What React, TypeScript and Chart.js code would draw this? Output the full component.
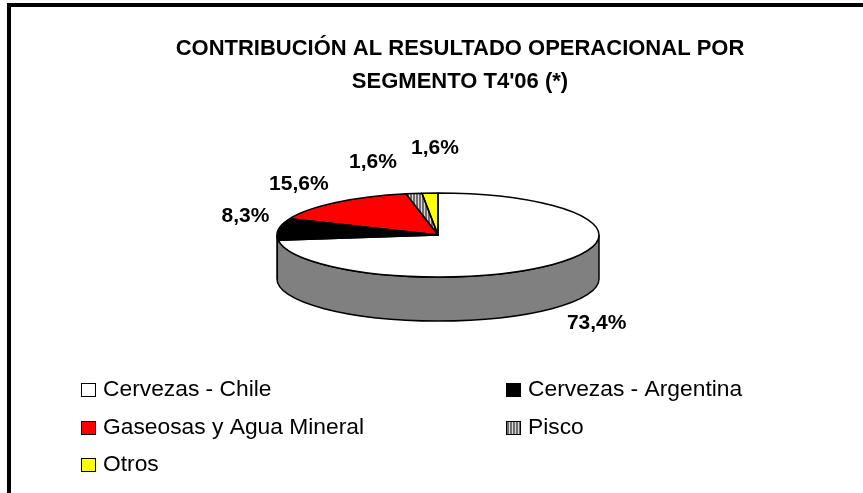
import React, { useEffect, useRef } from "react";
import { Chart, registerables } from "chart.js";

Chart.register(...registerables);

const titleLines = ["CONTRIBUCIÓN AL RESULTADO OPERACIONAL POR", "SEGMENTO T4'06 (*)"];
const categories = ["Cervezas - Chile", "Cervezas - Argentina", "Gaseosas y Agua Mineral", "Pisco", "Otros"];
const shares = [73.4, 8.3, 15.6, 1.6, 1.6];
const sliceColors = ["#ffffff", "#000000", "#ff0000", "pattern", "#ffff00"];
const wallColors = ["#808080", "#000000", "#800000", "#808080", "#808000"];
const labelOffsets = [[38, 60.5], [-33, -13], [-37, -18.5], [-41, -31.5], [5, -44.5]];
const legendSpots = [[81, 389], [506, 389], [81, 427], [506, 427], [81, 464]];

const RY = 42;
const DEPTH = 44;
const PIE_SHIFT = -22;

function makePattern(ctx: CanvasRenderingContext2D) {
  const c = document.createElement("canvas");
  c.width = 3;
  c.height = 3;
  const p = c.getContext("2d")!;
  p.fillStyle = "#d8d8d8";
  p.fillRect(0, 0, 3, 3);
  p.fillStyle = "#6e6e6e";
  p.fillRect(0, 0, 2, 3);
  return ctx.createPattern(c, "repeat")!;
}

const pie3d = {
  id: "pie3d",
  beforeDraw(chart: any) {
    const { ctx } = chart;
    ctx.save();
    ctx.fillStyle = "#ffffff";
    ctx.fillRect(0, 0, chart.width, chart.height);
    ctx.fillStyle = "#000000";
    ctx.fillRect(7, 3, chart.width, 4);
    ctx.fillRect(7, 3, 4, chart.height);
    ctx.restore();
  },
  beforeDatasetsDraw(chart: any) {
    const { ctx } = chart;
    const arcs = chart.getDatasetMeta(0).data;
    const { x: ax, y, outerRadius: r } = arcs[0];
    const x = ax + PIE_SHIFT;
    // side wall of the disc: the front half of each slice
    const wall = (a0: number, a1: number) => {
      ctx.beginPath();
      ctx.ellipse(x, y, r, RY, 0, a0, a1);
      ctx.ellipse(x, y + DEPTH, r, RY, 0, a1, a0, true);
      ctx.closePath();
    };
    const TAU = Math.PI * 2;
    ctx.save();
    arcs.forEach((arc: any, i: number) => {
      for (const shift of [0, -TAU]) {
        const a0 = Math.max(arc.startAngle + shift, 0);
        const a1 = Math.min(arc.endAngle + shift, Math.PI);
        if (a1 > a0) {
          wall(a0, a1);
          ctx.fillStyle = wallColors[i];
          ctx.fill();
        }
      }
    });
    wall(0, Math.PI);
    ctx.strokeStyle = "#000000";
    ctx.lineWidth = 1.5;
    ctx.stroke();
    ctx.restore();
    // flatten the disc the library draws
    ctx.save();
    ctx.translate(x, y);
    ctx.scale(1, RY / r);
    ctx.translate(-ax, -y);
  },
  afterDatasetsDraw(chart: any) {
    const { ctx } = chart;
    ctx.restore();
    const arcs = chart.getDatasetMeta(0).data;
    const { x: ax, y, outerRadius: r } = arcs[0];
    const x = ax + PIE_SHIFT;
    ctx.save();
    ctx.strokeStyle = "#000000";
    ctx.lineWidth = 1.5;
    ctx.lineJoin = "round";
    arcs.forEach((arc: any) => {
      ctx.beginPath();
      ctx.moveTo(x, y);
      ctx.ellipse(x, y, r, RY, 0, arc.startAngle, arc.endAngle);
      ctx.closePath();
      ctx.stroke();
    });
    // value labels
    ctx.fillStyle = "#000000";
    ctx.font = "bold 21px 'Liberation Sans'";
    ctx.textAlign = "center";
    ctx.textBaseline = "middle";
    arcs.forEach((arc: any, i: number) => {
      const mid = (arc.startAngle + arc.endAngle) / 2;
      const lx = x + r * Math.cos(mid) + labelOffsets[i][0];
      const ly = y + RY * Math.sin(mid) + labelOffsets[i][1];
      ctx.fillText(shares[i].toFixed(1).replace(".", ",") + "%", lx, ly);
    });
    ctx.restore();
  },
  afterDraw(chart: any) {
    const { ctx } = chart;
    const fills = chart.data.datasets[0].backgroundColor;
    ctx.save();
    ctx.font = "22.8px 'Liberation Sans'";
    ctx.textBaseline = "middle";
    ctx.textAlign = "left";
    categories.forEach((name, i) => {
      const [lx, ly] = legendSpots[i];
      ctx.fillStyle = fills[i];
      ctx.fillRect(lx, ly - 6, 15, 14);
      ctx.strokeStyle = "#000000";
      ctx.lineWidth = 1;
      ctx.strokeRect(lx + 0.5, ly - 5.5, 14, 13);
      ctx.fillStyle = "#000000";
      ctx.fillText(name, lx + 22, ly + 1);
    });
    ctx.restore();
  },
};

export default function App() {
  const ref = useRef<HTMLCanvasElement>(null);
  useEffect(() => {
    const canvas = ref.current!;
    const pattern = makePattern(canvas.getContext("2d")!);
    const chart = new Chart(canvas, {
      type: "pie",
      data: {
        labels: categories,
        datasets: [
          {
            data: shares,
            backgroundColor: sliceColors.map((c) => (c === "pattern" ? pattern : c)) as any,
            borderWidth: 0,
          },
        ],
      },
      options: {
        responsive: false,
        animation: false,
        events: [],
        radius: 161,
        rotation: 0,
        layout: { padding: { left: 0, right: 0, top: 0, bottom: 121.5 } },
        plugins: {
          legend: { display: false },
          tooltip: { enabled: false },
          title: {
            display: true,
            text: titleLines,
            color: "#000000",
            font: { family: "'Liberation Sans'", size: 22, weight: "bold", lineHeight: "33px" },
            padding: { top: 32.5, bottom: 0 },
          },
        },
      } as any,
      plugins: [pie3d],
    });
    return () => chart.destroy();
  }, []);
  return (
    <div style={{ position: "fixed", left: 0, top: 0, width: 863, height: 493, overflow: "hidden", background: "#fff" }}>
      <canvas ref={ref} width={920} height={493} style={{ display: "block" }} />
    </div>
  );
}
